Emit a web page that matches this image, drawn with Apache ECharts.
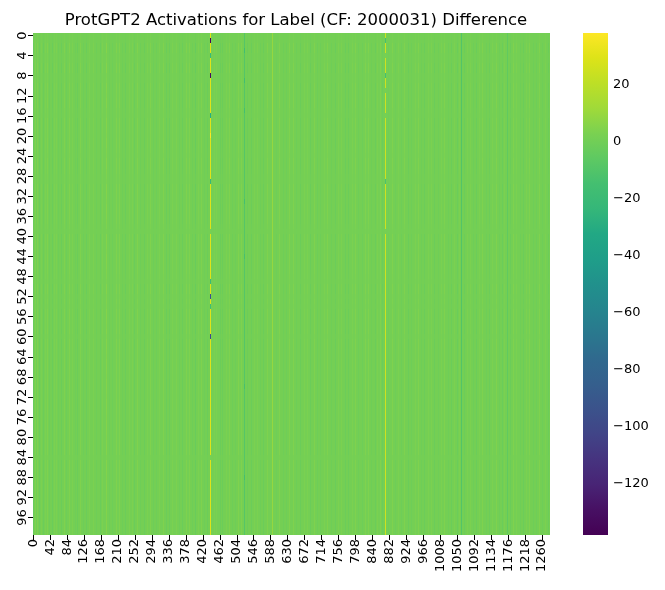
<!DOCTYPE html>
<html>
<head>
<meta charset="utf-8">
<script src="https://cdn.jsdelivr.net/npm/echarts@6/dist/echarts.min.js"></script>
<style>html,body{margin:0;padding:0;background:#fff;}#c{width:665px;height:590px;}</style>
</head>
<body>
<div id="c"></div>
<script>
// ---- data ----
const nRows = 100;
const nCols = 1280;
const xTickStep = 42;
const yTickStep = 4;
const colorbarTicks = [-120, -100, -80, -60, -40, -20, 0, 20];
const valueMin = -138;
const valueMax = 38;
const baseValue = 1;

// strong full-height stripes (column index, value)
const stripeCols = [440, 524, 593, 872, 1061, 1174];
const stripeVals = [30, -9, 9, 25, -10, -5];

// faint column texture (column index, offset)
const minorCols = [2, 5, 9, 12, 17, 22, 27, 31, 35, 41, 48, 53, 58, 64, 71, 77, 83, 90, 97, 104, 111, 118, 125, 133, 141, 150, 158, 166, 173, 181, 189, 197, 206, 214, 222, 230, 238, 246, 252, 259, 267, 275, 283, 290, 298, 305, 313, 322, 330, 338, 346, 355, 363, 371, 380, 388, 395, 402, 410, 417, 424, 431, 449, 455, 463, 470, 478, 486, 494, 501, 508, 515, 532, 540, 548, 556, 563, 571, 580, 602, 610, 619, 628, 636, 645, 653, 662, 671, 680, 688, 697, 705, 713, 722, 730, 739, 748, 756, 765, 773, 781, 790, 798, 806, 815, 823, 830, 838, 847, 853, 860, 866, 880, 890, 897, 905, 913, 921, 929, 938, 946, 954, 962, 970, 979, 987, 995, 1003, 1012, 1020, 1028, 1036, 1043, 1050, 1055, 1068, 1075, 1083, 1090, 1098, 1106, 1114, 1122, 1130, 1138, 1147, 1155, 1163, 1168, 1182, 1190, 1198, 1206, 1214, 1222, 1230, 1238, 1247, 1255, 1262, 1270, 1276];
const minorVals = [-4, 3, -2, 3, -3, 2, -3, 2, 3, -2,
  -3, 2, 2, -2, -3, 3, -2, 3, 2, -2,
  -3, 3, -2, -3, 2, 2, -2, -3, 2, 4,
  -2, -2, 3, 3, -2, -3, 2, 2, -3, 3,
  -2, -3, 2, 3, -2, -2, 2, 3, -3, -3,
  2, 2, -2, -3, 3, 3, -2, -4, 2, 3,
  -2, -3, 2, 2, -3, -3, 2, 3, -2, -2,
  3, 3, -3, -3, 2, 2, -2, -3, 3, -2,
  3, -2, -2, 3, 3, -2, -3, 2, 2, -3,
  3, -2, -2, 2, 3, -2, -3, 2, 2, -3,
  -3, 2, 3, -2, -2, 3, 3, -2, -3, 2,
  3, -3, -2, 3, -2, 2, -2, 3, -3, -2,
  2, 3, -2, -3, 2, 2, -3, -2, 2, 3,
  -2, -3, 2, -3, 2, -3, 2, 2, -2, -3,
  2, 3, -2, -3, 2, 3, -2, -3, 2, -3,
  3, 2, -2, -3, 2, 3, -2, -2, 3, -2,
  2, -3];

// per-row strength of the column texture
const rowTexture = [0.3, 0.4, 1, 1, 0.5, 0.6, 1, 1, 0.5, 0.6, 1, 0.9, 0.8, 1, 1, 0.7, 0.6, 1, 1, 0.9,
  0.8, 1, 1, 0.8, 0.7, 1, 1, 0.8, 0.6, 0.5, 1, 1, 0.9, 0.8, 1, 1, 0.9, 0.8, 0.6, 0.3,
  1, 1, 0.9, 0.8, 1, 1, 0.9, 0.8, 0.7, 0.5, 1, 1, 0.6, 0.8, 0.6, 1, 1, 0.9, 0.8, 1,
  0.6, 1, 1, 0.9, 0.8, 1, 1, 0.9, 0.8, 1, 1, 0.9, 0.8, 1, 1, 0.9, 0.8, 1, 1, 0.9,
  0.8, 1, 1, 0.9, 0.4, 1, 1, 0.9, 0.8, 1, 1, 0.9, 0.8, 1, 1, 0.9, 0.8, 1, 1, 0.9];

// single cells that stand out (row, column, value)
const spotRows = [1, 8, 52, 60, 4, 16, 29, 49, 54, 39, 84, 20, 1, 4, 8, 11, 16, 29, 39, 3, 9, 15, 33, 44, 70, 88];
const spotCols = [440, 440, 440, 440, 440, 440, 440, 440, 440, 440, 440, 440, 872, 872, 872, 872, 872, 872, 872, 524, 524, 524, 524, 524, 524, 524];
const spotVals = [-138, -132, -95, -100, -22, -30, -22, -20, -18, 2, 2, 38, -14, 2, -14, 2, 2, -12, 2, -16, -16, -15, -15, -14, -14, -15];

// ---- build grid (matrix[col][row]) ----
const xCats = Array.from({length: nCols}, (_, i) => String(i));
const yCats = Array.from({length: nRows}, (_, i) => String(i));
const colValue = new Array(nCols).fill(null);
const minor = new Array(nCols).fill(0);
minorCols.forEach((c, i) => { minor[c] = minorVals[i] || 0; });
stripeCols.forEach((c, i) => { colValue[c] = stripeVals[i]; });
const matrix = [];
for (let c = 0; c < nCols; c++) {
  const col = [];
  for (let r = 0; r < nRows; r++) {
    col.push(colValue[c] !== null ? colValue[c] : baseValue + minor[c] * rowTexture[r]);
  }
  matrix.push(col);
}
spotRows.forEach((r, i) => { matrix[spotCols[i]][r] = spotVals[i]; });

// one item per column: [column, strongest deviation]; drawn weakest first
const colItems = matrix.map((col, c) => [c, Math.max(...col.map(v => Math.abs(v - baseValue)))]);
colItems.sort((a, b) => a[1] - b[1]);

const viridis = ['#440154', '#471063', '#482475', '#46337f', '#414487', '#3b528b', '#355f8d', '#30698e', '#2a788e', '#25858e', '#21918c', '#1f9e89', '#22a884', '#35b779', '#44bf70', '#5ec962', '#7ad151', '#a0da39', '#bddf26', '#dde318', '#fde725'];
const colorOf = v => echarts.color.lerp(Math.max(0, Math.min(1, (v - valueMin) / (valueMax - valueMin))), viridis);
const minus = v => String(v).replace('-', '\u2212');
const font = 'DejaVu Sans';

function renderColumn(params, api) {
  const c = api.value(0);
  const center = api.coord([c, 0]);
  const size = api.size([1, 1]);
  const left = center[0] - size[0] / 2;
  const x0 = Math.floor(left);
  const x1 = Math.max(x0 + 1, Math.round(left + size[0]));
  const top = center[1] - size[1] / 2;
  const height = size[1] * nRows;
  const stops = [];
  const col = matrix[c];
  for (let r = 0; r < nRows; r++) {
    const color = colorOf(col[r]);
    stops.push({offset: r / nRows, color: color});
    stops.push({offset: (r + 1) / nRows, color: color});
  }
  return {
    type: 'rect',
    shape: {x: x0, y: top, width: x1 - x0, height: height},
    style: {fill: new echarts.graphic.LinearGradient(0, 0, 0, 1, stops)},
    silent: true
  };
}

function renderColorbar(params, api) {
  const p0 = api.coord([0, valueMax]);
  const p1 = api.coord([1, valueMin]);
  const stops = viridis.map((col, i) => ({offset: 1 - i / (viridis.length - 1), color: col}));
  stops.reverse();
  return {
    type: 'rect',
    shape: {x: p0[0], y: p0[1], width: p1[0] - p0[0], height: p1[1] - p0[1]},
    style: {fill: new echarts.graphic.LinearGradient(0, 0, 0, 1, stops)},
    silent: true
  };
}

const chart = echarts.init(document.getElementById('c'), null, {renderer: 'canvas'});
chart.setOption({
  animation: false,
  backgroundColor: '#fff',
  title: {
    text: 'ProtGPT2 Activations for Label (CF: 2000031) Difference',
    left: 291, top: 7, textAlign: 'center',
    textStyle: {fontFamily: font, fontSize: 16.5, fontWeight: 'normal', color: '#000'}
  },
  grid: [
    {left: 33, top: 33, width: 517, height: 502, show: false},
    {left: 583, top: 33, width: 25, height: 502, show: false}
  ],
  xAxis: [
    {
      type: 'category', data: xCats, gridIndex: 0,
      axisLine: {show: false},
      axisTick: {show: true, alignWithLabel: true, interval: xTickStep - 1, length: 5, lineStyle: {color: '#000', width: 1}},
      axisLabel: {interval: xTickStep - 1, rotate: 90, margin: 4, fontFamily: font, fontSize: 13, color: '#000'},
      splitLine: {show: false}
    },
    {type: 'value', gridIndex: 1, show: false, min: 0, max: 1}
  ],
  yAxis: [
    {
      type: 'category', data: yCats, inverse: true, gridIndex: 0,
      axisLine: {show: false},
      axisTick: {show: true, alignWithLabel: true, interval: yTickStep - 1, length: 5, lineStyle: {color: '#000', width: 1}},
      axisLabel: {interval: yTickStep - 1, rotate: 90, margin: 4, fontFamily: font, fontSize: 13, color: '#000'},
      splitLine: {show: false}
    },
    {
      type: 'value', gridIndex: 1, position: 'right', min: valueMin, max: valueMax,
      axisLine: {show: false},
      splitLine: {show: false},
      axisTick: {show: true, length: 5, customValues: colorbarTicks, lineStyle: {color: '#000', width: 1}},
      axisLabel: {customValues: colorbarTicks, margin: 5, formatter: minus, fontFamily: font, fontSize: 13, color: '#000'}
    }
  ],
  series: [
    {
      type: 'custom', xAxisIndex: 0, yAxisIndex: 0, data: colItems,
      renderItem: renderColumn, silent: true, clip: true
    },
    {
      type: 'custom', xAxisIndex: 1, yAxisIndex: 1, data: [[0, valueMin]],
      renderItem: renderColorbar, silent: true
    }
  ]
});
</script>
</body>
</html>
